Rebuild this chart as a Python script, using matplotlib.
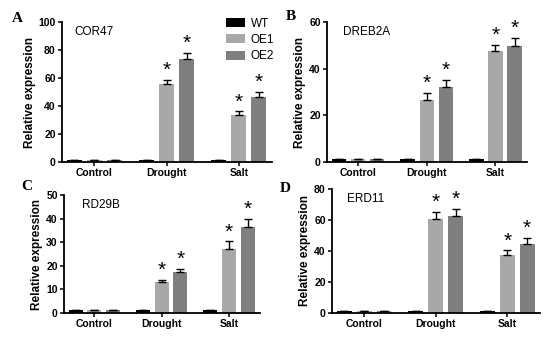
import matplotlib
matplotlib.use('Agg')
import matplotlib.pyplot as plt
import numpy as np

plt.rcParams['font.family'] = ['Liberation Sans', 'DejaVu Sans']

# datos
conditions = ['Control', 'Drought', 'Salt']
lines = ['WT', 'OE1', 'OE2']
colors = ['#000000', '#a8a8a8', '#7f7f7f']

genes = ['COR47', 'DREB2A', 'RD29B', 'ERD11']
letters = ['A', 'B', 'C', 'D']
ymax = [100, 60, 50, 80]
ystep = [20, 20, 10, 20]

# filas: WT, OE1, OE2 ; columnas: Control, Drought, Salt
cor47 = [[1.3, 1.3, 1.3], [1.3, 55.5, 33.5], [1.3, 73.5, 46.5]]
cor47_err = [[0, 0, 0], [0, 3.2, 2.6], [0, 4.6, 3.8]]
dreb2a = [[1.3, 1.3, 1.3], [1.3, 26.5, 47.5], [1.3, 32.3, 49.5]]
dreb2a_err = [[0, 0, 0], [0, 3.1, 2.7], [0, 2.9, 3.6]]
rd29b = [[1.3, 1.3, 1.3], [1.3, 13.2, 27.3], [1.3, 17.3, 36.3]]
rd29b_err = [[0, 0, 0], [0, 0.9, 3.0], [0, 1.3, 3.6]]
erd11 = [[1.3, 1.3, 1.3], [1.3, 60.5, 37.4], [1.3, 62.8, 44.5]]
erd11_err = [[0, 0, 0], [0, 4.8, 3.0], [0, 4.6, 3.9]]

# asteriscos: solo OE1/OE2 en sequia y sal
signif = [[False, False, False], [False, True, True], [False, True, True]]

values = [cor47, dreb2a, rd29b, erd11]
errors = [cor47_err, dreb2a_err, rd29b_err, erd11_err]

# posiciones de los ejes en pixeles (izq, arriba, der, abajo)
W, H = 550, 337
boxes = [(62, 22, 272, 162), (327, 22, 527, 162),
         (64, 195, 260, 313), (332, 189, 540, 313)]
letter_pos = [(12, 18), (286, 16), (21, 186), (280, 188)]
gene_x = [0.06, 0.08, 0.09, 0.07]

fig = plt.figure(figsize=(5.5, 3.37), dpi=100)

group_gap = 3.6
x = np.arange(len(conditions)) * group_gap

for k in range(4):
    l, t, r, b = boxes[k]
    ax = fig.add_axes([l / W, 1 - b / H, (r - l) / W, (b - t) / H])
    for j in range(3):
        xs = x + (j - 1)
        ax.bar(xs, values[k][j], width=0.75, color=colors[j], label=lines[j], zorder=2)
        err = np.array(errors[k][j])
        ax.errorbar(xs, values[k][j], yerr=[np.zeros(3), err], fmt='none',
                    ecolor='black', elinewidth=1, capsize=3, capthick=1, zorder=3)
        for i in range(3):
            if signif[j][i]:
                ax.annotate('*', (xs[i], values[k][j][i] + err[i]), xytext=(0, 0),
                            textcoords='offset points', ha='center', va='bottom',
                            fontsize=15)
    ax.set_xlim(-1.62, 8.85)
    ax.set_ylim(0, ymax[k])
    ax.set_yticks(np.arange(0, ymax[k] + 1, ystep[k]))
    ax.set_xticks(x)
    ax.set_xticklabels(conditions, fontsize=7.5, fontweight='bold')
    for lab in ax.get_yticklabels():
        lab.set_fontsize(7.5)
        lab.set_fontweight('bold')
    ax.set_ylabel('Relative expression', fontsize=8.5, fontweight='bold', labelpad=2)
    ax.spines['top'].set_visible(False)
    ax.spines['right'].set_visible(False)
    ax.spines['left'].set_linewidth(1.3)
    ax.spines['bottom'].set_linewidth(1.3)
    ax.tick_params(length=3, width=1.1, pad=1.5)
    ax.text(gene_x[k], 0.97, genes[k], transform=ax.transAxes, fontsize=8.5, va='top')
    fig.text(letter_pos[k][0] / W, 1 - letter_pos[k][1] / H, letters[k],
             fontsize=11, fontweight='bold', family='Liberation Serif',
             va='center', ha='left')
    if k == 0:
        ax.legend(loc='upper left', bbox_to_anchor=(220 / W, 1 - 12 / H),
                  bbox_transform=fig.transFigure, frameon=False, fontsize=8.5,
                  handlelength=1.6, handleheight=0.8, labelspacing=0.35,
                  handletextpad=0.5, borderpad=0)

fig.savefig('out.png', dpi=100)
